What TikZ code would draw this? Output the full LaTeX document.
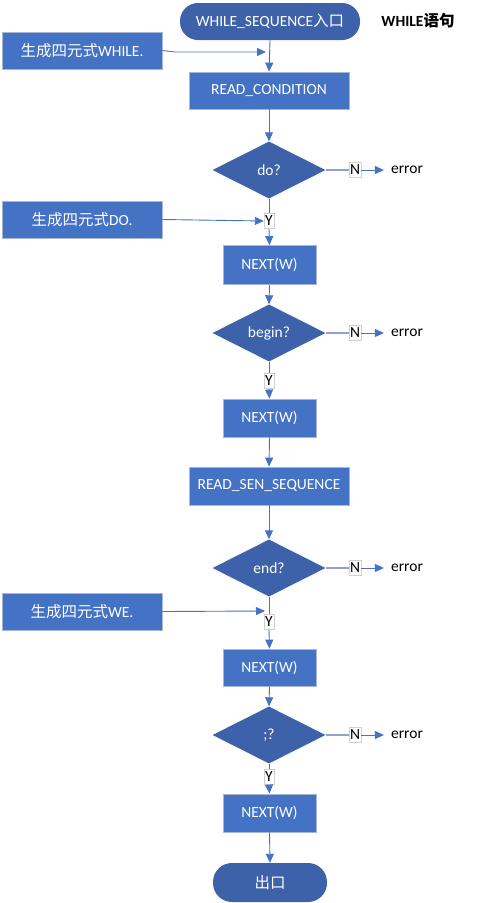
\documentclass[tikz,border=0pt]{standalone}
\usepackage{fontspec}
\setmainfont{Carlito}
\newfontfamily\cjk{Noto Sans CJK SC}
\usetikzlibrary{shapes.geometric,arrows.meta}
\definecolor{boxblue}{HTML}{4472C4}
\definecolor{darkblue}{HTML}{3E62AA}
\definecolor{boxedge}{HTML}{A8B8D4}
\definecolor{lineblue}{HTML}{4472C4}
\definecolor{nline}{HTML}{8FA4CC}
\definecolor{lbledge}{HTML}{D0D0D0}
\tikzset{
  every node/.style={font=\fontsize{15.5}{18}\selectfont},
  procbox/.style={rectangle,fill=boxblue,draw=boxedge,line width=0.8pt,text=white,inner sep=0pt},
  termbox/.style={rectangle,rounded corners=18pt,fill=darkblue,draw=none,text=white,inner sep=0pt},
  decbox/.style={diamond,aspect=2,fill=darkblue,draw=none,text=white,inner sep=0pt,minimum width=113pt,minimum height=57pt},
  lbl/.style={rectangle,fill=white,draw=lbledge,line width=0.4pt,inner sep=0.8pt,minimum width=10pt,minimum height=15pt,text=black},
  errtxt/.style={text=black,inner ysep=0pt,inner xsep=7pt},
  flow/.style={draw=lineblue,line width=0.9pt,-{Triangle[width=8pt,length=9pt]}},
  plain/.style={draw=lineblue,line width=0.9pt},
  nflow/.style={draw=nline,line width=1.2pt},
}
\begin{document}
\begin{tikzpicture}[x=1pt,y=-1pt]
\useasboundingbox (0,0) rectangle (486,903);
% nodes
\node[termbox,minimum width=180pt,minimum height=37pt] (start) at (270,21.5) {WHILE\_SEQUENCE{\cjk 入口}};
\node[inner sep=0pt,text=black,font=\fontsize{15.5}{18}\selectfont\bfseries] (title) at (418,21) {WHILE{\cjk\bfseries 语句}};
\node[procbox,minimum width=160pt,minimum height=37pt] (q1) at (82,50.5) {{\cjk 生成四元式}WHILE.};
\coordinate (w1) at (266,52);
\node[procbox,minimum width=160pt,minimum height=37pt] (rc) at (269,90.5) {READ\_CONDITION};
\node[decbox] (d1) at (269,170) {do?};
\node[lbl] (n1) at (355,170) {N};
\node[errtxt] (e1) at (407,170) {error};
\node[lbl] (y1) at (269,221) {Y};
\node[procbox,minimum width=160pt,minimum height=37pt] (q2) at (82,219.5) {{\cjk 生成四元式}DO.};
\node[procbox,minimum width=93pt,minimum height=39pt] (nx1) at (269.5,265) {NEXT(W)};
\node[decbox] (d2) at (269,333) {begin?};
\node[lbl] (n2) at (355,333) {N};
\node[errtxt] (e2) at (407,333) {error};
\node[lbl] (y2) at (269,381) {Y};
\node[procbox,minimum width=93pt,minimum height=38pt] (nx2) at (269.5,418) {NEXT(W)};
\node[procbox,minimum width=160pt,minimum height=38pt] (rs) at (269,486) {READ\_SEN\_SEQUENCE};
\node[decbox] (d3) at (269,568) {end?};
\node[lbl] (n3) at (355,568) {N};
\node[errtxt] (e3) at (407,568) {error};
\node[procbox,minimum width=160pt,minimum height=37pt] (q3) at (82,611.5) {{\cjk 生成四元式}WE.};
\coordinate (w3) at (265,611);
\node[lbl] (y3) at (269,622) {Y};
\node[procbox,minimum width=93pt,minimum height=37pt] (nx3) at (269.5,667.5) {NEXT(W)};
\node[decbox] (d4) at (269,735) {;?};
\node[lbl] (n4) at (355,735) {N};
\node[errtxt] (e4) at (407,735) {error};
\node[lbl] (y4) at (269,777) {Y};
\node[procbox,minimum width=93pt,minimum height=38pt] (nx4) at (269.5,813) {NEXT(W)};
\node[termbox,minimum width=114pt,minimum height=39pt,rounded corners=19pt] (end) at (270,882.5) {{\cjk 出口}};
% connectors
\draw[flow] (start.south) -- (rc.north);
\draw[flow] (q1.east) -- (175,52) -- (w1);
\draw[flow] (rc.south) -- (d1.north);
\draw[nflow] (d1.east) -- (n1.west);
\draw[flow] (n1.east) -- (e1.west);
\draw[plain] (d1.south) -- (y1.north);
\draw[flow] (y1.south) -- (nx1.north);
\draw[flow] (q2.east) -- (y1.west);
\draw[flow] (nx1.south) -- (d2.north);
\draw[nflow] (d2.east) -- (n2.west);
\draw[flow] (n2.east) -- (e2.west);
\draw[plain] (d2.south) -- (y2.north);
\draw[flow] (y2.south) -- (nx2.north);
\draw[flow] (nx2.south) -- (rs.north);
\draw[flow] (rs.south) -- (d3.north);
\draw[nflow] (d3.east) -- (n3.west);
\draw[flow] (n3.east) -- (e3.west);
\draw[plain] (d3.south) -- (y3.north);
\draw[flow] (y3.south) -- (nx3.north);
\draw[flow] (q3.east) -- (w3);
\draw[flow] (nx3.south) -- (d4.north);
\draw[nflow] (d4.east) -- (n4.west);
\draw[flow] (n4.east) -- (e4.west);
\draw[plain] (d4.south) -- (y4.north);
\draw[flow] (y4.south) -- (nx4.north);
\draw[flow] (nx4.south) -- (end.north);
\end{tikzpicture}
\end{document}
